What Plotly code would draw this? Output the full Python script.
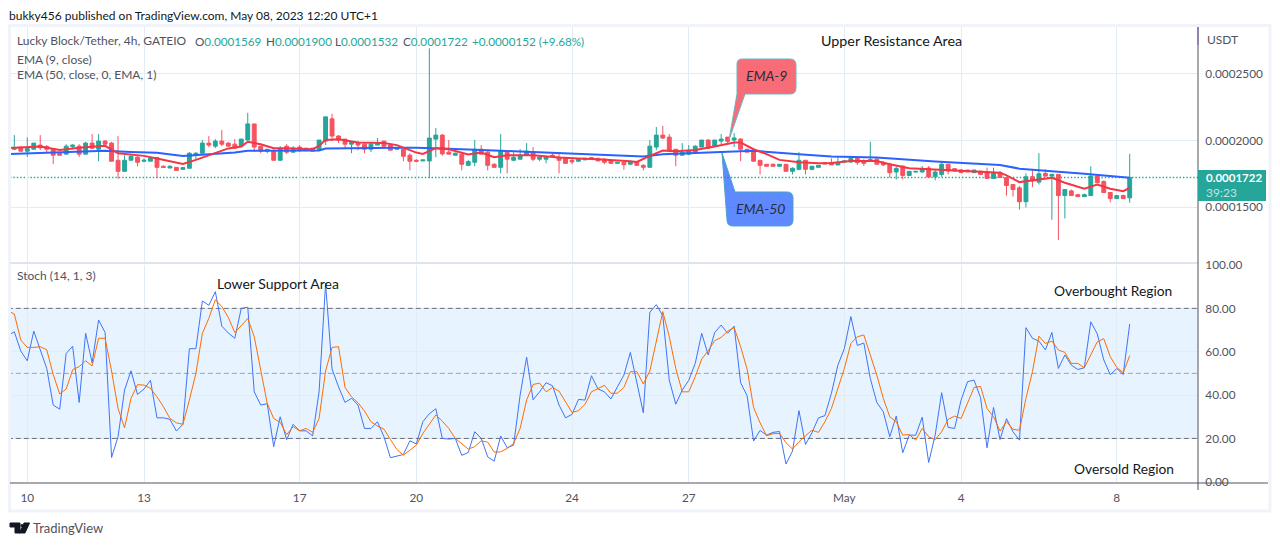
import plotly.graph_objects as go

W, H = 1280, 546

# price in units of 0.0000001, one entry per 4h bar
opens = [1934,1950,1919,1934,1965,1955,1934,1902,1897,1955,
         1957,1897,1980,1934,1995,1980,1851,1768,1851,1874,
         1844,1844,1871,1806,1793,1798,1783,1791,1892,1904,
         1980,1957,1995,1980,1972,1957,2003,2124,1957,1919,
         1924,1851,1957,1912,1950,1942,1942,1927,1995,2162,
         2033,2010,1972,1980,1972,1934,1965,1995,1965,1934,
         1934,1889,1851,1846,1846,2010,2040,1912,1889,1897,
         1813,1836,1934,1912,1821,1798,1912,1851,1859,1889,
         1912,1859,1859,1889,1874,1866,1849,1844,1854,1871,
         1866,1859,1849,1828,1836,1821,1841,1813,1798,1950,
         2040,2025,1934,1889,1897,1912,1950,2003,1957,1995,
         2025,2003,2010,1934,1919,1851,1821,1821,1806,1821,
         1768,1783,1851,1783,1798,1833,1833,1816,1838,1838,
         1864,1846,1846,1859,1833,1821,1763,1808,1737,1763,
         1763,1793,1727,1745,1821,1788,1778,1778,1758,1770,
         1765,1715,1758,1720,1669,1644,1540,1727,1687,1753,
         1732,1745,1586,1621,1593,1578,1586,1732,1692,1609,
         1563,1586,1569]
highs = [2040,1950,2023,1980,2040,1965,1934,1909,1972,1972,
         1972,1990,2048,2048,2003,1990,2033,1889,1889,1889,
         1864,1876,1871,1813,1813,1798,1796,1912,1912,2003,
         2033,2010,2078,1987,2010,2010,2207,2124,1957,1934,
         1934,1957,1972,1957,1965,1942,1942,2003,2177,2200,
         2040,2010,1995,1995,1980,1985,2018,1995,1972,1950,
         1942,1904,1859,1854,2692,2094,2048,2003,1909,1904,
         1854,2003,1965,1919,1828,2048,1919,1912,1934,1980,
         1950,1884,1884,1909,1909,1871,1859,1866,1866,1876,
         1866,1866,1849,1836,1836,1841,1846,1821,2003,2101,
         2109,2048,1934,1980,1965,1965,2003,2010,2003,2048,
         2025,2056,2018,1934,1927,1851,1821,1826,1821,1821,
         1798,1912,1851,1806,1813,1838,1866,1876,1850,1871,
         1871,1859,1990,1871,1846,1833,1803,1808,1768,1770,
         1808,1808,1783,1846,1821,1788,1785,1778,1778,1770,
         1796,1796,1770,1720,1669,1657,1753,1783,1904,1783,
         1750,1745,1631,1631,1593,1601,1806,1732,1700,1611,
         1586,1593,1900]
lows = [1927,1919,1876,1934,1927,1909,1823,1889,1897,1934,
        1876,1897,1934,1844,1972,1844,1712,1768,1851,1806,
        1836,1844,1717,1798,1791,1775,1783,1791,1859,1904,
        1950,1942,1957,1957,1942,1957,2003,1912,1904,1904,
        1851,1851,1897,1909,1912,1927,1919,1927,1965,1995,
        1980,1942,1904,1927,1904,1912,1965,1950,1927,1934,
        1844,1775,1836,1846,1717,1874,1884,1897,1889,1775,
        1806,1806,1897,1775,1798,1753,1753,1844,1859,1884,
        1844,1844,1828,1884,1753,1823,1821,1839,1854,1854,
        1846,1821,1828,1828,1780,1821,1808,1775,1798,1927,
        2010,1919,1806,1889,1889,1909,1950,1934,1957,1972,
        1972,1950,1844,1912,1844,1745,1806,1806,1806,1768,
        1745,1775,1745,1775,1798,1823,1816,1816,1838,1833,
        1816,1808,1846,1821,1808,1720,1707,1707,1737,1758,
        1758,1720,1700,1727,1745,1770,1758,1763,1758,1740,
        1715,1715,1720,1586,1578,1480,1497,1649,1669,1727,
        1404,1253,1414,1586,1578,1578,1586,1682,1606,1535,
        1563,1563,1532]
closes = [1947,1919,1940,1980,1945,1934,1889,1889,1957,1965,
          1897,1980,1942,1995,1972,1844,1768,1851,1881,1836,
          1851,1866,1798,1798,1806,1775,1796,1904,1904,1980,
          1965,1995,1972,1957,1942,2010,2124,1950,1919,1934,
          1851,1940,1912,1942,1927,1927,1919,2003,2177,2033,
          2003,1972,1987,1965,1934,1972,1980,1957,1927,1947,
          1881,1844,1844,1854,2018,2040,1899,1897,1904,1821,
          1841,1934,1897,1813,1798,1919,1859,1874,1884,1919,
          1859,1874,1874,1884,1851,1828,1839,1861,1866,1861,
          1846,1836,1828,1836,1818,1841,1813,1798,1957,2040,
          2018,1919,1889,1912,1924,1957,2003,1942,2003,2010,
          1993,2018,1934,1912,1844,1813,1806,1806,1821,1768,
          1791,1851,1783,1806,1813,1823,1816,1833,1846,1864,
          1833,1828,1856,1821,1816,1758,1790,1737,1768,1768,
          1790,1725,1763,1821,1770,1770,1758,1763,1778,1745,
          1715,1753,1722,1662,1631,1540,1727,1695,1750,1732,
          1745,1586,1631,1586,1578,1593,1732,1682,1609,1563,
          1586,1563,1722]

# EMA lines, read at their bends
ema9_bars = [-1,0,4,7,10,13,14,16,20,22,26,28,30,33,35,36,38,40,42,46,47,48,50,53,57,59,62,63,65,67,70,72,74,76,
             80,84,87,90,95,96,98,100,102,105,108,111,112,114,116,118,121,124,126,129,133,135,138,142,147,152,
             153,155,158,160,162,165,167,169,171,172]
ema9 = [1945,1945,1955,1929,1945,1960,1960,1904,1884,1864,1823,1854,1889,1940,1955,1990,1972,1942,1942,1934,
        1960,2003,2008,1985,1980,1965,1909,1899,1942,1934,1894,1909,1874,1889,
        1889,1871,1864,1859,1844,1839,1884,1924,1919,1929,1955,1985,1985,1934,1897,1854,1836,1828,1831,1846,
        1846,1821,1791,1783,1770,1758,1738,1687,1707,1720,1682,1637,1669,1637,1619,1644]
ema50_bars = [-1,8,14,18,22,26,29,34,36,47,48,56,59,62,66,75,85,97,100,109,114,121,126,133,142,152,155,165,172]
ema50 = [1897,1909,1922,1914,1907,1884,1892,1909,1922,1924,1940,1947,1945,1945,1940,1922,1904,1879,1897,1912,
         1922,1897,1879,1871,1841,1816,1788,1750,1720]

# stochastic, first value belongs to the bar before the first candle
stoch_k = [67.4,69.2,60.3,55.8,69.5,60.8,52.3,35.4,33.5,59.2,62.5,
           36.6,68.5,54.9,74.6,68.9,11.2,20.8,42.3,51.2,40.3,
           42.8,46.8,29.5,29.5,28.8,23.4,26.5,61.4,61.4,83.4,
           81.4,87.7,71.8,68.6,66.2,80,80.5,41.5,35.4,36,
           16.2,30,19.4,26.5,23.5,23.5,21.2,41.5,91.5,52,
           43.8,36.6,38.5,35.4,24.6,24.6,27.7,20.8,11.1,12,
           12.6,18.9,17.5,27.7,31.4,33.7,20,19.7,20,12.2,
           13.5,23.1,20,11.5,9.5,21.1,15.7,16.9,40,57.5,
           37.8,41.5,45.7,44.3,35.4,29.5,31.1,38,37.7,48.9,
           42.8,41.5,38.2,43.8,49.2,59.7,45.8,31.8,78.2,81.7,
           76.6,46.9,35.8,42.3,46.8,54.6,68.5,58.5,68.8,72.3,
           68.5,71.8,45.7,39.7,18.8,23.7,21.5,22.8,23.2,8.2,
           14.2,32.8,17.2,22.6,29.5,30.5,40.8,53.8,61.5,76.2,
           62.9,64,47.7,36.6,32.3,20.8,30.3,13.4,21.5,21.5,
           29.8,8.9,21.5,41.1,25.1,24.6,37.7,46.2,46.9,38.8,
           15.7,34.3,19.5,29.1,23.1,19.2,71.1,66.2,64.9,60.8,
           68.9,52.3,58.5,53.8,51.8,52.6,73.8,68.2,56.2,49.4,
           52.2,49.5,72.8]
stoch_d = [78.9,77.4,65.4,62,62,62.3,60.9,49.5,40.5,42.8,51.7,
           53.1,55.8,53.4,66.2,66.2,51.1,33.8,24.9,38.5,44.8,
           44.6,43.1,39.2,34.6,29.2,27.2,26.5,37.7,50,68.5,
           75.4,84,80.8,75.8,68.9,72,75.4,66.9,50.8,36.2,
           29.2,27.4,21.8,25.4,23.5,24.6,22.8,29.2,51.1,62,
           62.3,43.5,39.2,36.5,32.6,27.7,25.7,24.3,19.5,14.9,
           12.3,14.6,16.9,22.3,26.5,30.8,28,24.6,20,17.4,
           15.1,16.2,18.9,18.3,13.7,13.8,15.4,17.7,24.6,37.7,
           44.9,45.5,41.5,43.5,41.8,36.9,32,32.8,35.7,41.5,
           43.1,44.5,40.8,40.9,43.5,50.8,50.8,45.1,51.1,64.9,
           78.5,66.9,52.3,41.5,41.5,48.5,56.6,60.5,65.1,66.6,
           69.5,71.1,62.3,52,34.3,27.2,21.2,22.2,22.3,18,
           15.1,18.5,21.2,23.8,22.8,27.7,33.8,43.1,52.3,63.8,
           66.9,67.7,58.5,49.2,38.5,30,27.7,21.5,21.8,19.2,
           24.6,20.8,19.4,23.1,28.8,30.3,29.2,36.2,43.5,44,
           33.8,30,23.4,27.7,24.2,23.8,38.5,50.8,67.2,63.8,
           64.9,60.8,59.7,54.6,54.6,52.6,58.5,64.6,66,57.7,
           52.8,50.3,58.2]

tick_bars = [2, 20, 44, 62, 86, 104, 128, 146, 170]
tick_labels = ['10', '13', '17', '20', '24', '27', 'May', '4', '8']
price_ticks = [0.00015, 0.0002, 0.00025]
stoch_ticks = [0, 20, 40, 60, 80, 100]
last_price = 0.0001722

UP = '#26a69a'
DOWN = '#f7525f'
GRID = '#e3ecf3'
TEXT = '#50535e'
FONT = 'Lato'
BAND_EDGE = 20, 80


def to_price(vals):
    return [round(v * 1e-7, 7) for v in vals]


def px(x):
    return x / W


def py(y):
    return 1 - y / H


def label(text, x, y, size=12, color=TEXT, anchor='left', **kw):
    return dict(text=text, x=px(x), y=py(y), xref='paper', yref='paper', xanchor=anchor, yanchor='middle',
                showarrow=False, font=dict(family=FONT, size=size, color=color), **kw)


def paper_path(points, fill, line=None, width=1):
    # points are (cmd, x, y) in page pixels
    d = ''
    for p in points:
        if p[0] == 'Z':
            d += ' Z'
        elif p[0] == 'Q':
            d += ' Q %f,%f %f,%f' % (px(p[1]), py(p[2]), px(p[3]), py(p[4]))
        else:
            d += ' %s %f,%f' % (p[0], px(p[1]), py(p[2]))
    return dict(type='path', path=d, xref='paper', yref='paper', fillcolor=fill, layer='above',
                line=dict(color=line if line else fill, width=width))


def paper_line(x0, y0, x1, y1, color, width=1):
    return dict(type='line', xref='paper', yref='paper', x0=px(x0), y0=py(y0), x1=px(x1), y1=py(y1),
                line=dict(color=color, width=width), layer='above')


bars = list(range(len(opens)))
fig = go.Figure()
fig.add_trace(go.Candlestick(x=bars, open=to_price(opens), high=to_price(highs), low=to_price(lows),
                             close=to_price(closes), xaxis='x', yaxis='y', whiskerwidth=0,
                             increasing=dict(line=dict(color=UP, width=1), fillcolor=UP),
                             decreasing=dict(line=dict(color=DOWN, width=1), fillcolor=DOWN)))
fig.add_trace(go.Scatter(x=ema50_bars, y=to_price(ema50), mode='lines', line=dict(color='#2962ff', width=2),
                         xaxis='x', yaxis='y'))
fig.add_trace(go.Scatter(x=ema9_bars, y=to_price(ema9), mode='lines', line=dict(color='#f23645', width=2),
                         xaxis='x', yaxis='y'))
stoch_bars = [-1] + bars
fig.add_trace(go.Scatter(x=stoch_bars, y=stoch_k, mode='lines', line=dict(color='#3f74f8', width=1),
                         xaxis='x2', yaxis='y2'))
fig.add_trace(go.Scatter(x=stoch_bars, y=stoch_d, mode='lines', line=dict(color='#ff6d00', width=1),
                         xaxis='x2', yaxis='y2'))

shapes = []
# stoch band and its dashed levels
shapes.append(dict(type='rect', xref='x2', yref='y2', x0=-1, x1=183, y0=BAND_EDGE[0], y1=BAND_EDGE[1],
                   fillcolor='rgba(33,150,243,0.11)', line_width=0, layer='below'))
for lvl, col in [(80, '#6a6d78'), (50, '#a0a3ab'), (20, '#6a6d78')]:
    shapes.append(dict(type='line', xref='x2', yref='y2', x0=-1, x1=183, y0=lvl, y1=lvl,
                       line=dict(color=col, width=1, dash='5px,3px'), layer='between'))
# last price dotted line
shapes.append(dict(type='line', xref='paper', yref='y', x0=px(10), x1=px(1198), y0=last_price, y1=last_price,
                   line=dict(color=UP, width=1.4, dash='1.4px,2px'), layer='between'))
# frame and axis lines
shapes.append(dict(type='rect', xref='paper', yref='paper', x0=px(9.5), x1=px(1270), y0=py(511), y1=py(25.5),
                   line=dict(color='#f0f3fa', width=3), layer='above'))
shapes.append(paper_line(10, 263, 1198, 263, '#e0e3eb', 2))
shapes.append(paper_line(10, 483, 1268, 483, TEXT, 1))
shapes.append(paper_line(1198, 27, 1198, 490, TEXT, 1))
shapes.append(paper_line(1198, 27, 1198, 45, '#7e57c2', 1))
# price tag
shapes.append(dict(type='rect', xref='paper', yref='paper', x0=px(1198), x1=px(1266), y0=py(201), y1=py(170),
                   fillcolor=UP, line=dict(color=UP, width=0), layer='above'))
# callouts
shapes.append(paper_path([('M', 742, 59), ('L', 790, 59), ('Q', 796, 59, 796, 65), ('L', 796, 88),
                          ('Q', 796, 94, 790, 94), ('L', 745, 94), ('L', 729, 140), ('L', 737, 94),
                          ('L', 737, 64), ('Q', 737, 59, 742, 59), ('Z',)],
                         'rgba(247,82,95,0.85)', '#6bb5c5'))
shapes.append(paper_path([('M', 722, 153), ('L', 735, 192), ('L', 787, 192), ('Q', 793, 192, 793, 198),
                          ('L', 793, 220), ('Q', 793, 226, 787, 226), ('L', 733, 226), ('Q', 727, 226, 727, 220),
                          ('Z',)],
                         'rgba(41,98,255,0.75)', '#4aa3c8'))
# TradingView mark
shapes.append(paper_path([('M', 10, 523), ('L', 20, 523), ('L', 20, 533), ('L', 15, 533), ('L', 15, 527),
                          ('L', 10, 527), ('Z',)], '#131722'))
shapes.append(paper_path([('M', 24, 523), ('L', 29.5, 523), ('L', 25, 533), ('L', 19.5, 533), ('Z',)], '#131722'))
shapes.append(dict(type='circle', xref='paper', yref='paper', x0=px(20.5), x1=px(23.5), y0=py(527), y1=py(524),
                   fillcolor='#131722', line_width=0, layer='above'))


def tinted(v):
    return "<span style='color:%s'>%s</span>" % (UP, v)


notes = [
    label('bukky456 published on TradingView.com, May 08, 2023 12:20 UTC+1', 7, 15, color='#131722'),
    label('Lucky Block/Tether, 4h, GATEIO', 15, 41),
    label('O' + tinted('0.0001569'), 193, 41, size=11.7),
    label('H' + tinted('0.0001900'), 264, 41, size=11.7),
    label('L' + tinted('0.0001532'), 333, 41, size=11.7),
    label('C' + tinted('0.0001722'), 401, 41, size=11.7),
    label(tinted('+0.0000152 (+9.68%)'), 470, 41, size=11.7),
    label('EMA (9, close)', 15, 59),
    label('EMA (50, close, 0, EMA, 1)', 15, 75),
    label('Stoch (14, 1, 3)', 15, 275),
    label('USDT', 1205, 40),
    label('Upper Resistance Area', 819, 41, size=14.3, color='#131722'),
    label('Lower Support Area', 215, 283, size=14, color='#131722'),
    label('Overbought Region', 1052, 290, size=13.8, color='#131722'),
    label('Oversold Region', 1072, 469, size=13.8, color='#131722'),
    label('<i>EMA-9</i>', 766, 76, size=14, color='#2a2e39', anchor='center'),
    label('<i>EMA-50</i>', 760, 208, size=14, color='#2a2e39', anchor='center'),
    label('<b>0.0001722</b>', 1204, 178, size=11.5, color='#ffffff'),
    label('39:23', 1204, 192, color='#bfe5e1'),
    label('TradingView', 31, 528, size=13, color='#50535e'),
]

x_common = dict(range=[-0.663, 182.53], domain=[px(10), px(1198)], tickmode='array', tickvals=tick_bars,
                showgrid=True, gridcolor=GRID, gridwidth=1, zeroline=False, showline=False, ticks='',
                automargin=False, rangeslider=dict(visible=False))
fig.update_layout(
    width=W, height=H, autosize=False, margin=dict(l=0, r=0, t=0, b=0, autoexpand=False),
    paper_bgcolor='white', plot_bgcolor='white', showlegend=False, boxgap=0.15,
    font=dict(family=FONT, size=11.8, color=TEXT),
    xaxis=dict(anchor='y', showticklabels=False, **x_common),
    xaxis2=dict(anchor='y2', matches='x', showticklabels=True, ticktext=tick_labels, ticklen=5,
                **{**x_common, 'ticks': 'outside'}),
    yaxis=dict(domain=[py(262), py(27)], range=[0.0001087, 0.0002852], side='right', anchor='x', tickmode='array',
               tickvals=price_ticks, tickformat='.7f', gridcolor=GRID, zeroline=False, ticks='outside', ticklen=4,
               tickcolor='rgba(0,0,0,0)', automargin=False),
    yaxis2=dict(domain=[py(482), py(265)], range=[-0.1, 100], side='right', anchor='x2', tickmode='array',
                tickvals=stoch_ticks, tickformat='.2f', gridcolor=GRID, zeroline=False, ticks='outside', ticklen=4,
                tickcolor='rgba(0,0,0,0)', automargin=False),
    shapes=shapes,
    annotations=notes,
)
fig.update_xaxes(tickcolor='rgba(0,0,0,0)')

fig.write_html("out.html", config={'displayModeBar': False}, post_script="document.body.style.margin='0';")
